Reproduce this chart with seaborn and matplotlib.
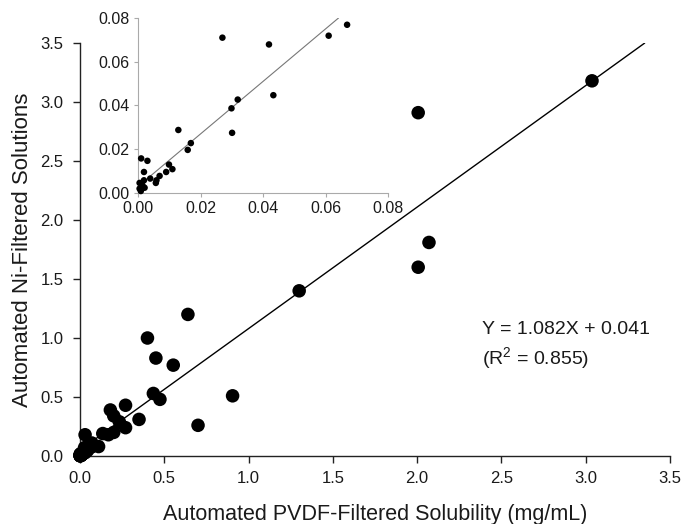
import matplotlib
matplotlib.use("Agg")
import matplotlib.pyplot as plt
import seaborn as sns
import numpy as np
import pandas as pd

# ---- data ----
main_x = [0.64, 0.40, 0.45, 0.553, 0.435, 0.474, 0.905, 0.70, 0.35, 0.27, 0.27,
          0.18, 0.20, 0.233, 0.20, 0.168, 0.135, 0.03, 0.11, 0.07,
          1.30, 2.006, 2.07, 2.006, 3.037]
main_y = [1.20, 1.00, 0.83, 0.77, 0.53, 0.48, 0.51, 0.26, 0.31, 0.43, 0.24,
          0.39, 0.34, 0.29, 0.20, 0.18, 0.19, 0.18, 0.08, 0.11,
          1.40, 2.91, 1.81, 1.60, 3.18]

inset_x = [0.027, 0.0419, 0.061, 0.0669, 0.0433, 0.0319, 0.0299, 0.0301, 0.0129,
           0.0169, 0.0159, 0.0099, 0.011, 0.009, 0.0069, 0.0059, 0.0057, 0.0039,
           0.001, 0.003, 0.0019, 0.0019, 0.0005, 0.0014, 0.0009, 0.0021, 0.0005]
inset_y = [0.071, 0.0679, 0.0719, 0.0769, 0.0447, 0.0427, 0.0387, 0.0275, 0.0288,
           0.0228, 0.0197, 0.0130, 0.0109, 0.0096, 0.0078, 0.0058, 0.0046, 0.0066,
           0.0158, 0.0147, 0.0096, 0.0058, 0.0046, 0.0035, 0.0009, 0.0024, 0.0020]

# drawn trend lines (slope, intercept) as they appear in the picture
main_fit = (1.03, 0.05)
inset_fit = (1.20, 0.003)
inset_fit_xstart = 0.0037

main_ticks = [0.0, 0.5, 1.0, 1.5, 2.0, 2.5, 3.0, 3.5]
inset_ticks = [0.00, 0.02, 0.04, 0.06, 0.08]

x_label = "Automated PVDF-Filtered Solubility (mg/mL)"
y_label = "Automated Ni-Filtered Solutions"
equation_line1 = "Y = 1.082X + 0.041"
equation_line2 = "(R$^{2}$ = 0.855)"

# ---- style ----
sns.set_style("ticks")
plt.rcParams['font.family'] = ['Liberation Sans', 'DejaVu Sans']
plt.rcParams['mathtext.fontset'] = 'custom'
plt.rcParams['mathtext.rm'] = 'Liberation Sans'
plt.rcParams['mathtext.it'] = 'Liberation Sans:italic'
plt.rcParams['mathtext.default'] = 'rm'

TXT = "#1a1a1a"

fig = plt.figure(figsize=(6.84, 5.24), dpi=100)
ax = fig.add_axes([0.117, 0.1298, 0.8626, 0.788])

all_df = pd.DataFrame({"x": main_x + inset_x, "y": main_y + inset_y})
sns.scatterplot(data=all_df, x="x", y="y", ax=ax, color="black", s=95,
                edgecolor="none", clip_on=False, zorder=3)

m, b = main_fit
lx = np.array([0.0, (3.5 - b) / m])
ax.plot(lx, m * lx + b, color="black", lw=1.0, zorder=2)

ax.set_xlim(0, 3.5)
ax.set_ylim(0, 3.5)
ax.set_xticks(main_ticks)
ax.set_yticks(main_ticks)
ax.set_xticklabels([f"{t:.1f}" for t in main_ticks])
ax.set_yticklabels([f"{t:.1f}" for t in main_ticks])
sns.despine(ax=ax)
for sp in ["left", "bottom"]:
    ax.spines[sp].set_color("#222222")
    ax.spines[sp].set_linewidth(1.0)
ax.tick_params(axis="both", direction="out", length=5, width=1, color="#222222",
               labelsize=12, labelcolor=TXT)
ax.tick_params(axis="x", pad=5.5)
ax.tick_params(axis="y", pad=7)
ax.set_xlabel(x_label, fontsize=15.5, color=TXT, labelpad=13)
ax.set_ylabel(y_label, fontsize=16, color=TXT, labelpad=5)

ax.text(2.385, 1.03, equation_line1, fontsize=14, color=TXT, ha="left", va="baseline")
ax.text(2.385, 0.775, equation_line2, fontsize=14, color=TXT, ha="left", va="baseline")

# ---- inset ----
axi = fig.add_axes([0.2018, 0.6317, 0.3655, 0.334])
in_df = pd.DataFrame({"x": inset_x, "y": inset_y})
sns.scatterplot(data=in_df, x="x", y="y", ax=axi, color="black", s=22,
                edgecolor="none", clip_on=False, zorder=3)
mi, bi = inset_fit
ix = np.array([inset_fit_xstart, (0.08 - bi) / mi])
axi.plot(ix, mi * ix + bi, color="#777777", lw=0.8, zorder=2)
axi.set_xlim(0, 0.08)
axi.set_ylim(0, 0.08)
axi.set_xticks(inset_ticks)
axi.set_yticks(inset_ticks)
axi.set_xticklabels([f"{t:.2f}" for t in inset_ticks])
axi.set_yticklabels([f"{t:.2f}" for t in inset_ticks])
axi.set_xlabel("")
axi.set_ylabel("")
axi.patch.set_alpha(0)
sns.despine(ax=axi)
for sp in ["left", "bottom"]:
    axi.spines[sp].set_color("#aaaaaa")
    axi.spines[sp].set_linewidth(0.8)
axi.tick_params(axis="both", direction="out", length=3, width=0.8, color="#aaaaaa",
                labelsize=11.5, labelcolor=TXT, pad=3)

fig.savefig("out.png", dpi=100)
